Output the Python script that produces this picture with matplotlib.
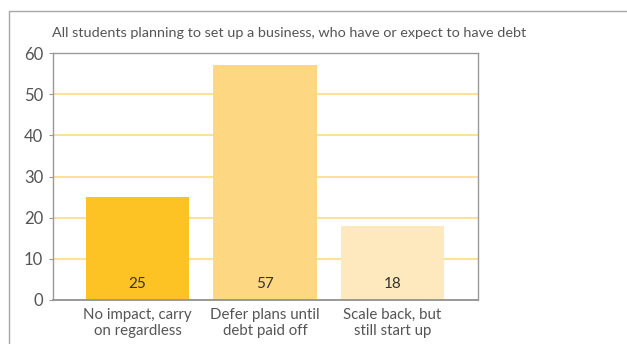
import matplotlib.pyplot as plt
from matplotlib.patches import Rectangle

categories = ["No impact, carry\non regardless", "Defer plans until\ndebt paid off", "Scale back, but\nstill start up"]
values = [25, 57, 18]
colors = ["#FDC324", "#FDD782", "#FEE8BE"]
yticks = [0, 10, 20, 30, 40, 50, 60]
title = "All students planning to set up a business, who have or expect to have debt"

plt.rcParams['font.family'] = ['Lato', 'DejaVu Sans']

fig = plt.figure(figsize=(6.27, 3.44), dpi=100)

# outer box (open to the right and bottom)
fig.patches.append(Rectangle((9 / 627, -0.1), 1.2, 1 - 11 / 344 + 0.1, transform=fig.transFigure,
                             fill=False, edgecolor="#A8A8A8", linewidth=1.0))

ax = fig.add_axes([53 / 627, 44 / 344, 425 / 627, 247 / 344])
x = range(len(values))
ax.bar(x, values, width=0.81, color=colors, zorder=2)
for xi, v in zip(x, values):
    ax.text(xi, 4, str(v), ha="center", va="center", fontsize=11, color="#333333", zorder=3)

ax.set_xlim(-0.663, 2.67)
ax.set_ylim(0, 60)
ax.set_yticks(yticks)
ax.yaxis.grid(True, color="#FDDB85", linewidth=1.2, zorder=1)
ax.set_axisbelow(True)
ax.set_xticks(list(x))
ax.set_xticklabels(categories, fontsize=10.8, color="#555555", linespacing=1.12)
ax.tick_params(axis="x", length=0, pad=6)
ax.tick_params(axis="y", length=3, color="#999999", labelsize=12, labelcolor="#555555", pad=4)
for s in ax.spines.values():
    s.set_color("#999999")
    s.set_linewidth(1.0)
ax.spines["bottom"].set_linewidth(1.4)

fig.text(52 / 627, 1 - 33 / 344, title, fontsize=10.4, color="#555555", va="center", ha="left")

fig.savefig("out.png", dpi=100)
